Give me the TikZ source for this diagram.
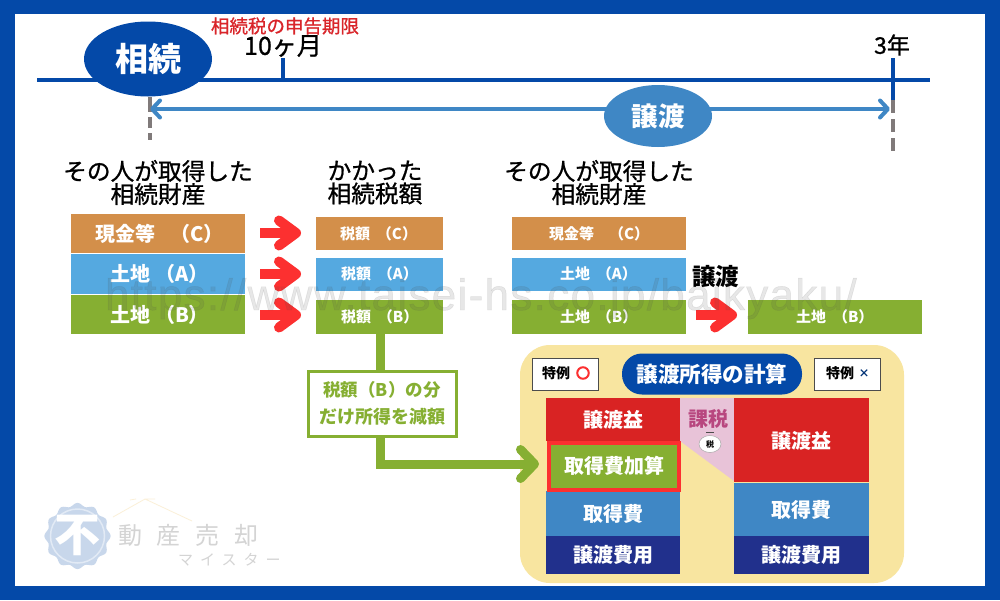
\documentclass[tikz,border=0pt]{standalone}
\usepackage{fontspec}
\setmainfont{Noto Sans CJK JP}
\newfontfamily\jpmed[FakeBold=0.9]{Noto Sans CJK JP}
\newfontfamily\wmfont[LetterSpace=3,FakeBold=1]{Liberation Sans}
\usetikzlibrary{arrows.meta,shapes.geometric,calc}
\definecolor{frameblue}{HTML}{0449A8}
\definecolor{midblue}{HTML}{3F87C5}
\definecolor{skyblue}{HTML}{55A9E0}
\definecolor{orangebox}{HTML}{D38F4A}
\definecolor{greenbox}{HTML}{86AF32}
\definecolor{redbox}{HTML}{D92323}
\definecolor{navybox}{HTML}{21308C}
\definecolor{panel}{HTML}{F8E5A0}
\definecolor{arrowred}{HTML}{FC3030}
\definecolor{pinkarea}{HTML}{E8C3D8}
\definecolor{taxtext}{HTML}{B8477F}
\definecolor{ticktext}{HTML}{D9252A}
\definecolor{dashgray}{HTML}{807A7A}
\definecolor{logoblue}{HTML}{C8D7EB}
\definecolor{logoring}{HTML}{E2EAF5}
\definecolor{roofline}{HTML}{FBF0D8}
\tikzset{
  x=1pt,y=-1pt,
  title/.style={font=\jpmed\fontsize{23.7}{23}\selectfont,align=center,text=black,inner sep=0pt},
  redarrow/.style={draw=arrowred,line width=10pt,-{Straight Barb[round,length=17pt,width=25pt]}},
  greenline/.style={draw=greenbox,line width=9pt},
  timeline/.style={draw=frameblue,line width=4pt},
  dashline/.style={draw=dashgray,line width=4pt,dash pattern=on 13pt off 6pt},
  tokurei/.style={draw=black!70,fill=white,line width=1pt,minimum width=66pt,minimum height=32pt,inner sep=0pt},
  plain/.style={inner sep=0pt,outer sep=0pt},
  biglabel/.style={plain,anchor=west,text=white,font=\bfseries\fontsize{20}{20}\selectfont},
  smalllabel/.style={plain,anchor=west,text=white,font=\bfseries\fontsize{15}{15}\selectfont},
  calclabel/.style={plain,text=white,font=\bfseries\fontsize{20}{20}\selectfont},
}
\begin{document}
\begin{tikzpicture}
\useasboundingbox (0,0) rectangle (1000,600);
\fill[frameblue] (0,0) rectangle (1000,600);
\fill[white] (15,14) rectangle (985,586);

% logo
\fill[logoblue] plot[domain=0:360,samples=145,smooth cycle] ({77.5+(31.5+1.6*cos(12*\x))*cos(\x)},{536+(31.5+1.6*cos(12*\x))*sin(\x)});
\draw[logoring,line width=1.5pt] (77.5,536) circle (27);
\node[plain,text=white,font=\bfseries\fontsize{46}{46}\selectfont] (fu) at (77.5,535) {不};
\node[plain,text=black!17,font=\fontsize{24}{24}\selectfont,anchor=west] (dosan) at (118,535) {\addfontfeature{LetterSpace=62}動産売却};
\node[plain,text=black!17,font=\fontsize{15}{15}\selectfont,anchor=west] (meister) at (178,560) {\addfontfeature{LetterSpace=47}マイスター};
\draw[roofline,line width=.8pt] (113,517) -- (145,499) -- (192,521) (130,500) -- (136,499) (145,499) -- (155,499);

% timeline
\coordinate (tlL) at (37,80);
\coordinate (tlR) at (930,80);
\draw[timeline] (tlL) -- (tlR);
\coordinate (t10) at (283,80);
\coordinate (t10top) at (283,58);
\draw[timeline] (t10) -- (t10top);
\coordinate (t3) at (892.5,80);
\coordinate (t3top) at (892.5,58);
\coordinate (t3mid) at (892.5,100);
\coordinate (t3end) at (892.5,152);
\coordinate (t0top) at (150,97);
\coordinate (t0end) at (150,140);
\draw[timeline] (t3top) -- (t3mid);
\draw[dashline] (t3mid) -- (t3end);
\draw[dashline,dash pattern=on 15pt off 5pt on 11pt off 5pt] (t0top) -- (t0end);
\node[ellipse,fill=frameblue,minimum width=128pt,minimum height=75pt,inner sep=0pt,text=white,font=\bfseries\fontsize{33}{33}\selectfont] (souzoku) at (148,59) {相続};
\node[plain,text=ticktext,font=\jpmed\fontsize{18.5}{18.5}\selectfont] (kigen) at (285,26) {相続税の申告期限};
\node[plain,font=\jpmed\fontsize{25}{25}\selectfont] (m10) at (283,46) {10ヶ月};
\node[plain,font=\jpmed\fontsize{23}{23}\selectfont] (y3) at (892,45) {3年};

% transfer span
\coordinate (spL) at (150,109);
\coordinate (spR) at (890,109);
\draw[draw=midblue,line width=4pt,{Straight Barb[round,length=8pt,width=17pt]}-{Straight Barb[round,length=8pt,width=17pt]}] (spL) -- (spR);
\node[ellipse,fill=midblue,minimum width=108pt,minimum height=62pt,inner sep=0pt,text=white,font=\bfseries\fontsize{26.5}{26.5}\selectfont] (joto) at (658,116) {譲渡};

% titles
\node[title] (h1) at (158,182.5) {その人が取得した\\相続財産};
\node[title] (h2) at (375,182.5) {かかった\\相続税額};
\node[title] (h3) at (599,182.5) {その人が取得した\\相続財産};

% column 1
\fill[orangebox] (71,214) rectangle (245,253); \node[biglabel] (c1) at (95,234) {現金等\hspace{15pt}（C）};
\fill[skyblue] (71,254) rectangle (245,294); \node[biglabel] (a1) at (110,274) {土地\hspace{5pt}（A）};
\fill[greenbox] (71,295) rectangle (245,334); \node[biglabel] (b1) at (110,315) {土地\hspace{5pt}（B）};

% column 2
\fill[orangebox] (316,217) rectangle (443,250); \node[smalllabel] (c2) at (340,234) {税額\hspace{7pt}（C）};
\fill[skyblue] (316,258) rectangle (443,291); \node[smalllabel] (a2) at (341,274) {税額\hspace{7pt}（A）};
\fill[greenbox] (316,300) rectangle (443,334); \node[smalllabel] (b2) at (341,317) {税額\hspace{7pt}（B）};

% column 3
\fill[orangebox] (512,217) rectangle (686,250); \node[smalllabel] (c3) at (549,234) {現金等\hspace{15pt}（C）};
\fill[skyblue] (512,258) rectangle (686,291); \node[smalllabel] (a3) at (560,274) {土地\hspace{7pt}（A）};
\fill[greenbox] (512,300) rectangle (686,334); \node[smalllabel] (b3) at (560,317) {土地\hspace{7pt}（B）};
\fill[greenbox] (748,300) rectangle (922,334); \node[smalllabel] (b4) at (796,317) {土地\hspace{7pt}（B）};
\node[plain,font=\bfseries\fontsize{23.5}{23.5}\selectfont] (joto2) at (715.5,277) {譲渡};

% red arrows
\coordinate (r1s) at (260,233); \coordinate (r1e) at (301,233);
\coordinate (r2s) at (260,274); \coordinate (r2e) at (301,274);
\coordinate (r3s) at (260,315); \coordinate (r3e) at (301,315);
\coordinate (r4s) at (696,315); \coordinate (r4e) at (737,315);
\draw[redarrow] (r1s) -- (r1e);
\draw[redarrow] (r2s) -- (r2e);
\draw[redarrow] (r3s) -- (r3e);
\draw[redarrow] (r4s) -- (r4e);

% panel
\fill[panel,rounded corners=30pt] (520,345) rectangle (904,583);
\node[fill=frameblue,rounded corners=20pt,minimum width=180pt,minimum height=41pt,inner sep=0pt,text=white,font=\bfseries\fontsize{21.5}{21.5}\selectfont] (calc) at (712,374) {譲渡所得の計算};
\node[tokurei] (tk1) at (565,374) {};
\node[plain,anchor=west,font=\bfseries\fontsize{14}{14}\selectfont] (tk1t) at (542,373) {特例};
\node[circle,draw=arrowred,line width=2pt,minimum size=11.5pt,inner sep=0pt] (tk1o) at (583,373) {};
\node[tokurei] (tk2) at (847,374) {};
\node[plain,anchor=west,font=\bfseries\fontsize{14}{14}\selectfont] (tk2t) at (826,373) {特例};
\node[plain,text=frameblue!70!black,font=\bfseries\fontsize{11}{11}\selectfont] (tk2x) at (864,374) {×};

\fill[pinkarea] (680,398) -- (734,398) -- (734,481) -- (680,441) -- cycle;
\node[plain,text=taxtext,font=\bfseries\fontsize{20}{20}\selectfont] (kazei) at (708,419) {課税};
\node[ellipse,draw=black!35,line width=.5pt,fill=white,minimum width=22pt,minimum height=17pt,inner sep=0pt,font=\bfseries\fontsize{8}{8}\selectfont] (bag) at (710,444) {税};
\coordinate (bagL) at (706,432); \coordinate (bagR) at (714,432);
\draw[black!70,line width=1pt] (bagL) -- (bagR);

\fill[redbox] (546,398) rectangle (680,441);
\node[calclabel] (l1) at (613,420) {譲渡益};
\fill[midblue] (546,491) rectangle (680,536);
\fill[navybox] (546,536) rectangle (680,574);
\node[calclabel] (l3) at (613,514) {取得費};
\node[calclabel] (l4) at (613,555) {譲渡費用};
\node[draw=arrowred,line width=4pt,fill=greenbox,minimum width=130pt,minimum height=47pt,inner sep=0pt,text=white,font=\bfseries\fontsize{20}{20}\selectfont] (l2) at (614,466) {取得費加算};

\fill[redbox] (734,398) rectangle (869,482);
\node[calclabel] (r1) at (801,441) {譲渡益};
\fill[midblue] (734,483) rectangle (869,536);
\fill[navybox] (734,536) rectangle (869,574);
\node[calclabel] (r2) at (801,510) {取得費};
\node[calclabel] (r3) at (801,555) {譲渡費用};

% green connector
\coordinate (gtop) at (380,334);
\coordinate (gcorner) at (380,464);
\coordinate (gend) at (539,464);
\draw[greenline,line join=miter,-{Straight Barb[round,length=14pt,width=29pt]}] (gtop) -- (gcorner) -- (gend);
\node[draw=greenbox,line width=3pt,fill=white,minimum width=148pt,minimum height=65pt,inner sep=0pt,text=greenbox,align=center,font=\bfseries\fontsize{18}{27}\selectfont] (note) at (382,403.5) {{\fontsize{17.5}{27}\selectfont 税額（B）の分}\\だけ所得を減額};

% watermark (lies faintly over everything)
\node[plain,anchor=base west,text=black!70,text opacity=.13,font=\wmfont\fontsize{44}{44}\selectfont] (wm) at (105,310) {https://www.taisei-hs.co.jp/baikyaku/};
\end{tikzpicture}
\end{document}
